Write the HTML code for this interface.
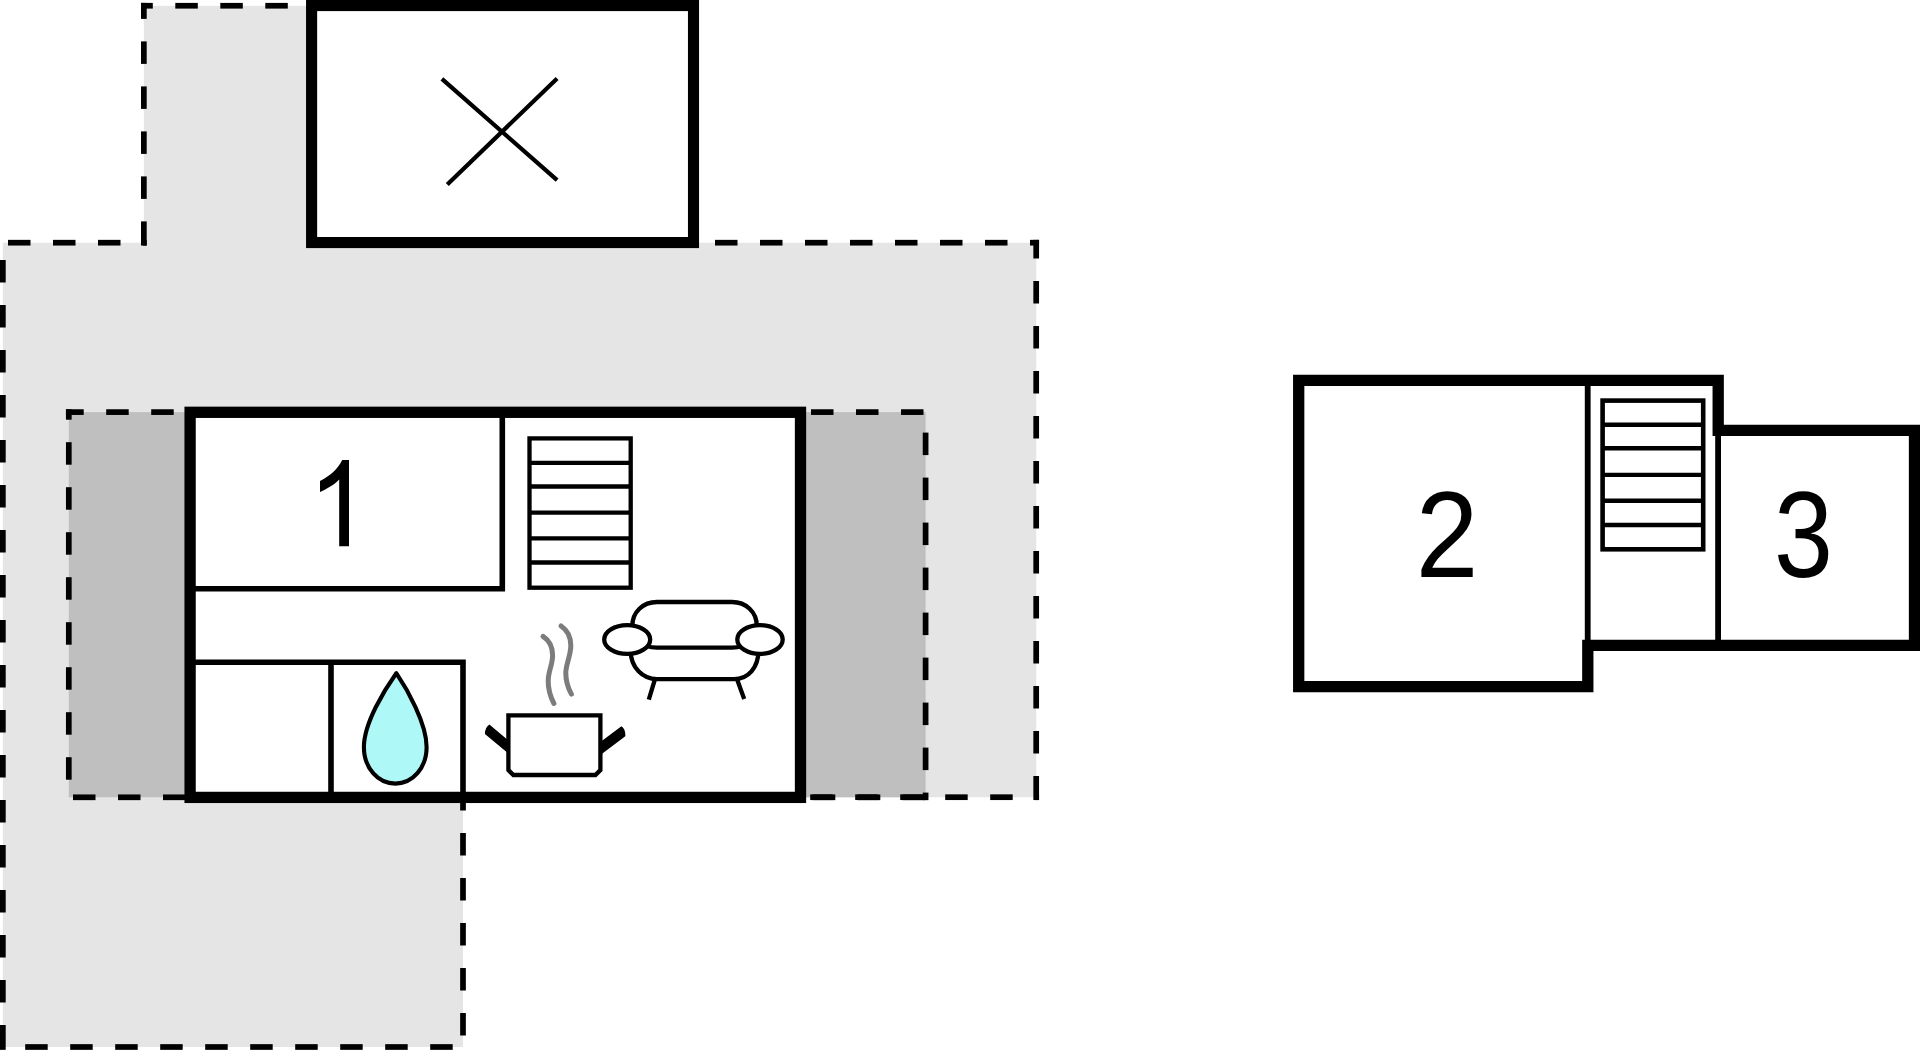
<!DOCTYPE html>
<html><head><meta charset="utf-8"><title>Floor plan</title>
<style>html,body{margin:0;padding:0;background:#fff;overflow:hidden}svg{display:block}text{font-family:"Liberation Sans",sans-serif}</style>
</head><body>
<svg width="1920" height="1050" viewBox="0 0 1920 1050">
<path fill="#e5e5e5" d="M2.85 1047.0 V242.7 H143.85 V5.75 H500 V242.7 H1036.2 V797.2 H463 V1047.0 Z"/>
<rect fill="#bfbfbf" x="68.8" y="412.1" width="121.3" height="385.19999999999993"/>
<rect fill="#bfbfbf" x="800.5" y="412.1" width="125.10000000000002" height="385.19999999999993"/>
<g fill="#000"><rect x="0.00" y="260.00" width="5.7" height="22.50"/><rect x="0.00" y="305.00" width="5.7" height="22.50"/><rect x="0.00" y="350.00" width="5.7" height="22.50"/><rect x="0.00" y="395.00" width="5.7" height="22.50"/><rect x="0.00" y="440.00" width="5.7" height="22.50"/><rect x="0.00" y="485.00" width="5.7" height="22.50"/><rect x="0.00" y="530.00" width="5.7" height="22.50"/><rect x="0.00" y="575.00" width="5.7" height="22.50"/><rect x="0.00" y="620.00" width="5.7" height="22.50"/><rect x="0.00" y="665.00" width="5.7" height="22.50"/><rect x="0.00" y="710.00" width="5.7" height="22.50"/><rect x="0.00" y="755.00" width="5.7" height="22.50"/><rect x="0.00" y="800.00" width="5.7" height="22.50"/><rect x="0.00" y="845.00" width="5.7" height="22.50"/><rect x="0.00" y="890.00" width="5.7" height="22.50"/><rect x="0.00" y="935.00" width="5.7" height="22.50"/><rect x="0.00" y="980.00" width="5.7" height="22.50"/><rect x="0.00" y="1025.00" width="5.7" height="24.85"/><rect x="8.00" y="239.85" width="22.50" height="5.7"/><rect x="53.00" y="239.85" width="22.50" height="5.7"/><rect x="98.00" y="239.85" width="22.50" height="5.7"/><rect x="143.00" y="239.85" width="3.70" height="5.7"/><rect x="141.00" y="2.90" width="5.7" height="16.00"/><rect x="141.00" y="41.40" width="5.7" height="22.50"/><rect x="141.00" y="86.40" width="5.7" height="22.50"/><rect x="141.00" y="131.40" width="5.7" height="22.50"/><rect x="141.00" y="176.40" width="5.7" height="22.50"/><rect x="141.00" y="221.40" width="5.7" height="24.15"/><rect x="141.00" y="2.90" width="11.80" height="5.7"/><rect x="175.30" y="2.90" width="22.50" height="5.7"/><rect x="220.30" y="2.90" width="22.50" height="5.7"/><rect x="265.30" y="2.90" width="22.50" height="5.7"/><rect x="310.30" y="2.90" width="12.55" height="5.7"/><rect x="687.15" y="239.85" width="5.35" height="5.7"/><rect x="715.00" y="239.85" width="22.50" height="5.7"/><rect x="760.00" y="239.85" width="22.50" height="5.7"/><rect x="805.00" y="239.85" width="22.50" height="5.7"/><rect x="850.00" y="239.85" width="22.50" height="5.7"/><rect x="895.00" y="239.85" width="22.50" height="5.7"/><rect x="940.00" y="239.85" width="22.50" height="5.7"/><rect x="985.00" y="239.85" width="22.50" height="5.7"/><rect x="1030.00" y="239.85" width="9.05" height="5.7"/><rect x="1033.35" y="239.85" width="5.7" height="18.65"/><rect x="1033.35" y="281.00" width="5.7" height="22.50"/><rect x="1033.35" y="326.00" width="5.7" height="22.50"/><rect x="1033.35" y="371.00" width="5.7" height="22.50"/><rect x="1033.35" y="416.00" width="5.7" height="22.50"/><rect x="1033.35" y="461.00" width="5.7" height="22.50"/><rect x="1033.35" y="506.00" width="5.7" height="22.50"/><rect x="1033.35" y="551.00" width="5.7" height="22.50"/><rect x="1033.35" y="596.00" width="5.7" height="22.50"/><rect x="1033.35" y="641.00" width="5.7" height="22.50"/><rect x="1033.35" y="686.00" width="5.7" height="22.50"/><rect x="1033.35" y="731.00" width="5.7" height="22.50"/><rect x="1033.35" y="776.00" width="5.7" height="24.05"/><rect x="810.20" y="794.35" width="22.50" height="5.7"/><rect x="855.20" y="794.35" width="22.50" height="5.7"/><rect x="900.20" y="794.35" width="22.50" height="5.7"/><rect x="945.20" y="794.35" width="22.50" height="5.7"/><rect x="990.20" y="794.35" width="22.50" height="5.7"/><rect x="1035.20" y="794.35" width="3.85" height="5.7"/><rect x="460.15" y="788.00" width="5.7" height="22.50"/><rect x="460.15" y="833.00" width="5.7" height="22.50"/><rect x="460.15" y="878.00" width="5.7" height="22.50"/><rect x="460.15" y="923.00" width="5.7" height="22.50"/><rect x="460.15" y="968.00" width="5.7" height="22.50"/><rect x="460.15" y="1013.00" width="5.7" height="22.50"/><rect x="25.20" y="1044.15" width="22.50" height="5.7"/><rect x="70.20" y="1044.15" width="22.50" height="5.7"/><rect x="115.20" y="1044.15" width="22.50" height="5.7"/><rect x="160.20" y="1044.15" width="22.50" height="5.7"/><rect x="205.20" y="1044.15" width="22.50" height="5.7"/><rect x="250.20" y="1044.15" width="22.50" height="5.7"/><rect x="295.20" y="1044.15" width="22.50" height="5.7"/><rect x="340.20" y="1044.15" width="22.50" height="5.7"/><rect x="385.20" y="1044.15" width="22.50" height="5.7"/><rect x="430.20" y="1044.15" width="22.50" height="5.7"/><rect x="65.95" y="409.25" width="17.75" height="5.7"/><rect x="106.20" y="409.25" width="22.50" height="5.7"/><rect x="151.20" y="409.25" width="22.50" height="5.7"/><rect x="65.95" y="409.25" width="5.7" height="10.45"/><rect x="65.95" y="442.20" width="5.7" height="22.50"/><rect x="65.95" y="487.20" width="5.7" height="22.50"/><rect x="65.95" y="532.20" width="5.7" height="22.50"/><rect x="65.95" y="577.20" width="5.7" height="22.50"/><rect x="65.95" y="622.20" width="5.7" height="22.50"/><rect x="65.95" y="667.20" width="5.7" height="22.50"/><rect x="65.95" y="712.20" width="5.7" height="22.50"/><rect x="65.95" y="757.20" width="5.7" height="22.50"/><rect x="73.00" y="794.45" width="22.50" height="5.7"/><rect x="118.00" y="794.45" width="22.50" height="5.7"/><rect x="163.00" y="794.45" width="22.50" height="5.7"/><rect x="811.00" y="409.25" width="22.50" height="5.7"/><rect x="856.00" y="409.25" width="22.50" height="5.7"/><rect x="901.00" y="409.25" width="22.50" height="5.7"/><rect x="922.75" y="432.60" width="5.7" height="22.50"/><rect x="922.75" y="477.60" width="5.7" height="22.50"/><rect x="922.75" y="522.60" width="5.7" height="22.50"/><rect x="922.75" y="567.60" width="5.7" height="22.50"/><rect x="922.75" y="612.60" width="5.7" height="22.50"/><rect x="922.75" y="657.60" width="5.7" height="22.50"/><rect x="922.75" y="702.60" width="5.7" height="22.50"/><rect x="922.75" y="747.60" width="5.7" height="22.50"/><rect x="922.75" y="792.60" width="5.7" height="7.55"/><rect x="812.80" y="794.45" width="22.50" height="5.7"/><rect x="857.80" y="794.45" width="22.50" height="5.7"/><rect x="902.80" y="794.45" width="22.50" height="5.7"/></g>
<rect x="311.6" y="5.55" width="381.9" height="237" fill="#fff" stroke="#000" stroke-width="11.1"/>
<path d="M441.9 78.9 L557.1 180.1 M447.3 184.5 L557.1 78.6" stroke="#000" stroke-width="4.2" fill="none"/>
<rect x="190.1" y="412.3" width="610.4" height="385.1" fill="#fff" stroke="#000" stroke-width="11.3"/>
<path d="M502.3 412.3 V588.7 H190.1 M190.1 662.3 H463 V797.4 M331 662.3 V797.4" stroke="#000" stroke-width="5.6" fill="none" stroke-linecap="butt" stroke-linejoin="miter"/>
<rect x="529.5" y="438.4" width="101.2" height="149.3" fill="none" stroke="#000" stroke-width="4.3"/>
<path d="M529.5 462.8 H630.7 M529.5 486.5 H630.7 M529.5 512.7 H630.7 M529.5 538.4 H630.7 M529.5 562.5 H630.7" stroke="#000" stroke-width="4.3"/>
<path d="M349 460.1 L349 546.3 L339.2 546.3 L339.2 479.5 C334 485 326 489.5 320 491.9 L320 481.1 C330 476 338 469 342.2 460.1 Z" fill="#000"/>
<path d="M396.3 673.2 C385 689 363.9 723 363.9 747 C363.9 768 378 783.6 395.3 783.6 C412.6 783.6 426.6 768 426.6 747 C426.6 723 407 689 396.3 673.2 Z" fill="#aff8f8" stroke="#000" stroke-width="4.1" stroke-linejoin="round"/>
<path d="M508.4 715.4 H600.4 V770 L595.4 775 H513.4 L508.4 770 Z" fill="#fff" stroke="#000" stroke-width="4.3"/>
<path d="M489.4 724.4 L508.4 740.6 L508.4 753.6 L484.9 733.9 Q484.9 727.2 489.4 724.4 Z M600.4 741.9 L621.4 726.2 Q625.8 729.4 625.3 736.2 L600.4 754.9 Z" fill="#000"/>
<path d="M543.1 636.3 C549.5 640.5 552.6 647 552.6 655.5 C552.6 665 548.2 671 548.2 681 C548.2 690 550.5 697 553.9 703.5 M561.1 626 C567 630 570.8 637 570.8 645.5 C570.8 656 565.8 664 565.8 673 C565.8 682 568 688 571.4 694.1" stroke="#7c7c7c" stroke-width="5" fill="none" stroke-linecap="round"/>
<g fill="none" stroke="#000" stroke-width="4.3"><path d="M632.3 630 V626 C632.3 612 643 602 657 602 H732 C746 602 756.8 612 756.8 626 V630"/><path d="M640 641 C644 646 650 647.7 657 647.7 H732 C739 647.7 745 646 750 641"/><path d="M630.6 650 C630.6 668 643 679.1 657 679.1 H734 C748 679.1 758.5 668 758.5 650"/><path d="M654.6 680.3 L648.8 699.7 M737.4 680.3 L744.2 699.1"/><ellipse cx="627.2" cy="639.5" rx="23" ry="14.4" fill="#fff"/><ellipse cx="760" cy="639.5" rx="22.7" ry="14.4" fill="#fff"/></g>
<path d="M1298.7 380.3 H1718.2 V430.3 H1914.5 V645.4 H1587.8 V686.6 H1298.7 Z" fill="#fff" stroke="#000" stroke-width="11.3" stroke-linejoin="miter"/>
<path d="M1587.7 380.3 V645.4 M1718.1 430.3 V645.4" stroke="#000" stroke-width="5.8"/>
<rect x="1602.6" y="400.6" width="100.6" height="148.7" fill="none" stroke="#000" stroke-width="4.6"/>
<path d="M1602.6 424.8 H1703.2 M1602.6 448.2 H1703.2 M1602.6 474.9 H1703.2 M1602.6 500.8 H1703.2 M1602.6 525 H1703.2" stroke="#000" stroke-width="4.4"/>
<text x="0" y="0" font-family="Liberation Sans" font-size="123" transform="translate(1415.8 577) scale(0.915 1)">2</text>
<text x="0" y="0" font-family="Liberation Sans" font-size="123" transform="translate(1774 577) scale(0.861 1)">3</text>
</svg>
</body></html>
